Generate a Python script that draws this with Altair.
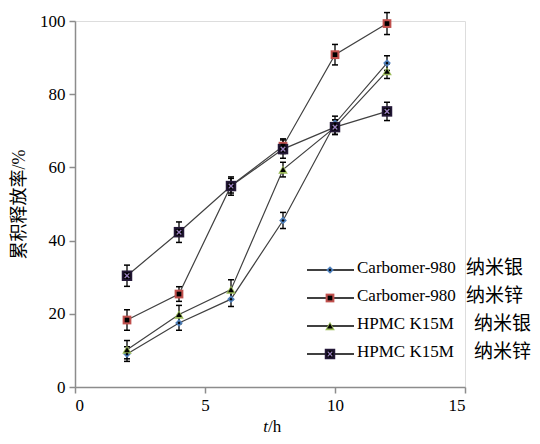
import altair as alt
import pandas as pd

series = ["Carbomer-980 纳米银", "Carbomer-980 纳米锌", "HPMC K15M 纳米银", "HPMC K15M 纳米锌"]
series_latin = ["Carbomer-980", "Carbomer-980", "HPMC K15M", "HPMC K15M"]
series_cjk = ["纳米银", "纳米锌", "纳米银", "纳米锌"]
times = [2, 4, 6, 8, 10, 12]
carbomer_ag = [9.0, 17.5, 24.0, 45.5, 72.0, 88.5]
carbomer_zn = [18.3, 25.4, 55.0, 65.8, 90.8, 99.3]
hpmc_ag = [10.2, 19.8, 26.6, 59.4, 71.0, 86.3]
hpmc_zn = [30.4, 42.3, 54.9, 65.0, 71.0, 75.3]
err_carbomer_ag = [2.0, 2.0, 2.0, 2.2, 2.0, 2.0]
err_carbomer_zn = [2.8, 2.0, 2.0, 2.0, 2.8, 3.0]
err_hpmc_ag = [2.5, 2.5, 2.7, 2.0, 2.0, 2.0]
err_hpmc_zn = [2.9, 2.8, 2.5, 2.5, 2.0, 2.5]

values = [carbomer_ag, carbomer_zn, hpmc_ag, hpmc_zn]
errors = [err_carbomer_ag, err_carbomer_zn, err_hpmc_ag, err_hpmc_zn]

rows = []
for s, vals, errs in zip(series, values, errors):
    for t, v, e in zip(times, vals, errs):
        rows.append({"series": s, "t": t, "y": v, "lo": v - e, "hi": v + e})
df = pd.DataFrame(rows)
leg = pd.DataFrame({"series": series, "latin": series_latin, "cjk": series_cjk, "order": [0, 1, 2, 3]})

FONT = "Liberation Serif, Noto Sans CJK SC"
CJK = "Noto Sans CJK SC"
outer_colors = ["#4F81BD", "#C0504D", "#9BBB59", "#241838"]
shapes = ["diamond", "square", "triangle-up", "square"]
outer_sizes = [60, 110, 75, 125]
inner_sizes = [10, 45, 14, 0]

color_outer = alt.Color("series:N", scale=alt.Scale(domain=series, range=outer_colors), legend=None)
shape_enc = alt.Shape("series:N", scale=alt.Scale(domain=series, range=shapes), legend=None)
size_outer = alt.Size("series:N", scale=alt.Scale(domain=series, range=outer_sizes), legend=None)
size_inner = alt.Size("series:N", scale=alt.Scale(domain=series, range=inner_sizes), legend=None)

xs = alt.Scale(domain=[0, 15], padding=0, nice=False)
ys = alt.Scale(domain=[0, 100], padding=0, nice=False)

x_axis = alt.Axis(values=[0, 5, 10, 15], title=None, grid=False, domainColor="#8c8c8c", domainWidth=1.5,
                  tickColor="#8c8c8c", tickWidth=1.5, tickSize=6, labelFont=FONT, labelFontSize=17,
                  labelColor="black", labelPadding=4)
y_axis = alt.Axis(values=list(range(0, 101, 10)), labelExpr="datum.value % 20 == 0 ? datum.label : ''",
                  title="累积释放率/%", titleFont=FONT, titleFontSize=18, titleFontWeight="normal",
                  titleColor="black", titlePadding=11, grid=False, domainColor="#8c8c8c", domainWidth=1.5,
                  tickColor="#8c8c8c", tickWidth=1.5, tickSize=6, labelFont=FONT, labelFontSize=17,
                  labelColor="black", labelPadding=4)

base = alt.Chart(df)
X = alt.X("t:Q", scale=xs, axis=x_axis)
Y = alt.Y("y:Q", scale=ys, axis=y_axis)

CAP = "M -1 0 L 1 0"
XSHAPE = "M -1 -1 L 1 1 M -1 1 L 1 -1"
lines = base.mark_line(color="#404040", strokeWidth=1.2).encode(x=X, y=Y, detail="series:N")
bars = base.mark_rule(color="black", strokeWidth=1.3).encode(x="t:Q", y="lo:Q", y2="hi:Q")
cap_lo = base.mark_point(shape=CAP, filled=False, color="black", opacity=1, strokeWidth=1.5, size=36).encode(x="t:Q", y="lo:Q")
cap_hi = base.mark_point(shape=CAP, filled=False, color="black", opacity=1, strokeWidth=1.5, size=36).encode(x="t:Q", y="hi:Q")
pt_outer = base.mark_point(filled=True, opacity=1).encode(x="t:Q", y="y:Q", color=color_outer, shape=shape_enc, size=size_outer)
pt_inner = base.mark_point(filled=True, opacity=1, color="black").encode(x="t:Q", y="y:Q", shape=shape_enc, size=size_inner)
pt_cross = base.transform_filter(alt.datum.series == series[3]).mark_point(
    shape=XSHAPE, filled=False, opacity=1, color="#9A7FC0", strokeWidth=1.3, size=22).encode(x="t:Q", y="y:Q")

# legend (manual)
lb = alt.Chart(leg).transform_calculate(ly="249 + datum.order * 28",
                                        cx="datum.order < 2 ? 391 : 399")
LY = alt.Y("ly:Q", scale=None)
leg_line = lb.mark_rule(color="black", strokeWidth=1.3).encode(x=alt.value(232), x2=alt.value(279), y=LY)
leg_outer = lb.mark_point(filled=True, opacity=1).encode(x=alt.value(255), y=LY, color=color_outer, shape=shape_enc, size=size_outer)
leg_inner = lb.mark_point(filled=True, opacity=1, color="black").encode(x=alt.value(255), y=LY, shape=shape_enc, size=size_inner)
leg_cross = lb.transform_filter(alt.datum.series == series[3]).mark_point(
    shape=XSHAPE, filled=False, opacity=1, color="#9A7FC0", strokeWidth=1.3, size=22).encode(x=alt.value(255), y=LY)
leg_latin = lb.mark_text(align="left", baseline="middle", font=FONT, fontSize=17, color="black", dy=-2).encode(
    x=alt.value(282), y=LY, text="latin:N")
leg_cjk = lb.mark_text(align="left", baseline="middle", font=CJK, fontSize=19, color="black", dy=-2).encode(
    x=alt.X("cx:Q", scale=None), y=LY, text="cjk:N")

# x-axis title with italic t
xt_t = alt.Chart(pd.DataFrame({"s": ["t"]})).mark_text(font=FONT, fontSize=17, fontStyle="italic", align="right",
    baseline="alphabetic", color="black").encode(x=alt.value(193), y=alt.value(411), text="s:N")
xt_h = alt.Chart(pd.DataFrame({"s": ["/h"]})).mark_text(font=FONT, fontSize=17, align="left",
    baseline="alphabetic", color="black").encode(x=alt.value(193), y=alt.value(411), text="s:N")

chart = alt.layer(lines, bars, cap_lo, cap_hi, pt_outer, pt_inner, pt_cross,
                  leg_line, leg_outer, leg_inner, leg_cross, leg_latin, leg_cjk, xt_t, xt_h).resolve_scale(
    size="independent").properties(
    width=390, height=366, autosize=alt.AutoSizeParams(type="none"),
    padding={"left": 67, "top": 13, "right": 67, "bottom": 49}
).configure_view(stroke=None).configure(background="white")

chart.save("out.html", embed_options={"renderer": "svg", "actions": False})
